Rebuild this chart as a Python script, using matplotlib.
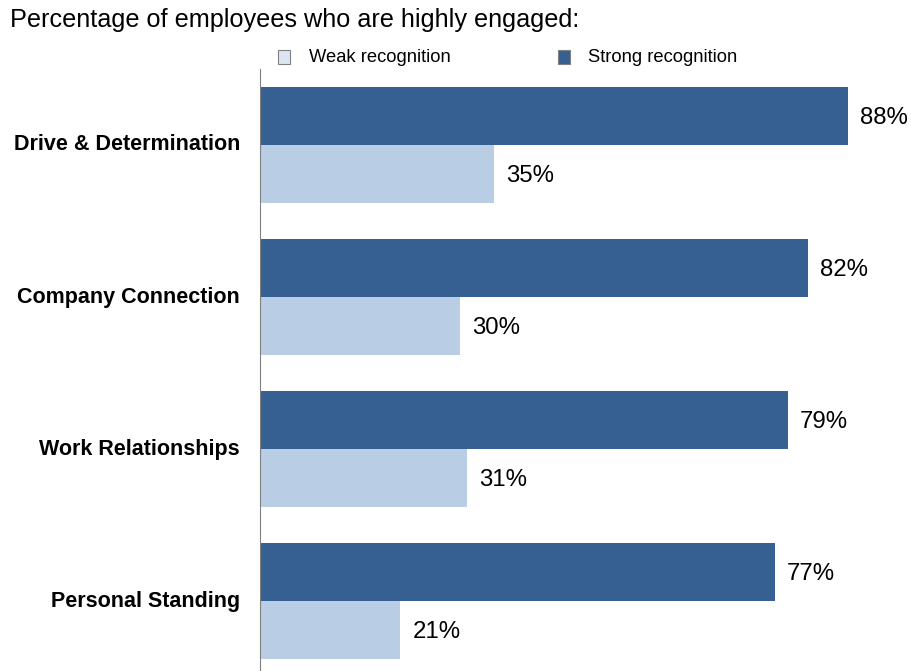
import matplotlib.pyplot as plt
import numpy as np

plt.rcParams['font.family'] = ['Liberation Sans', 'DejaVu Sans']

categories = ["Drive & Determination", "Company Connection",
              "Work Relationships", "Personal Standing"]
strong = [88, 82, 79, 77]
weak = [35, 30, 31, 21]

dark = "#366092"
light = "#b9cde5"

fig = plt.figure(figsize=(9.12, 6.71), dpi=100)
W, H = 912, 671
px_per_pct = (848 - 260) / 88.0
ax = fig.add_axes([260 / W, 0, 1 - 260 / W, 1 - 69 / H])

h = 58 / 152.0
y = np.arange(len(categories))
ax.barh(y - h, strong, height=h, align="edge", color=dark)
ax.barh(y, weak, height=h, align="edge", color=light)

for i in range(len(categories)):
    ax.text(strong[i] + 12 / px_per_pct, y[i] - h / 2 + 0.01, f"{strong[i]}%",
            va="center", ha="left", fontsize=17.3)
    ax.text(weak[i] + 12 / px_per_pct, y[i] + h / 2 + 0.01, f"{weak[i]}%",
            va="center", ha="left", fontsize=17.3)
    fig.text(240 / W, 1 - (145 + 152 * i) / H, categories[i],
             ha="right", va="center", fontsize=15.5, fontweight="bold")

ax.set_xlim(0, (W - 260) / px_per_pct)
ax.set_ylim(3.46, -0.5)
for s in ["top", "right", "bottom"]:
    ax.spines[s].set_visible(False)
ax.spines["left"].set_color("#808080")
ax.set_xticks([])
ax.set_yticks([])

fig.text(10 / W, 1 - 20 / H, "Percentage of employees who are highly engaged:",
         ha="left", va="center", fontsize=18.2)

# legend swatches
fig.patches.append(plt.Rectangle((278 / W, 1 - 64 / H), 12 / W, 14 / H,
                                 transform=fig.transFigure, facecolor="#dce6f2",
                                 edgecolor="#808080", lw=0.8))
fig.text(309 / W, 1 - 57 / H, "Weak recognition", ha="left", va="center", fontsize=13.2)
fig.patches.append(plt.Rectangle((558 / W, 1 - 64 / H), 12 / W, 14 / H,
                                 transform=fig.transFigure, facecolor=dark,
                                 edgecolor="#808080", lw=0.8))
fig.text(588 / W, 1 - 57 / H, "Strong recognition", ha="left", va="center", fontsize=13.2)

fig.savefig("out.png", dpi=100)
